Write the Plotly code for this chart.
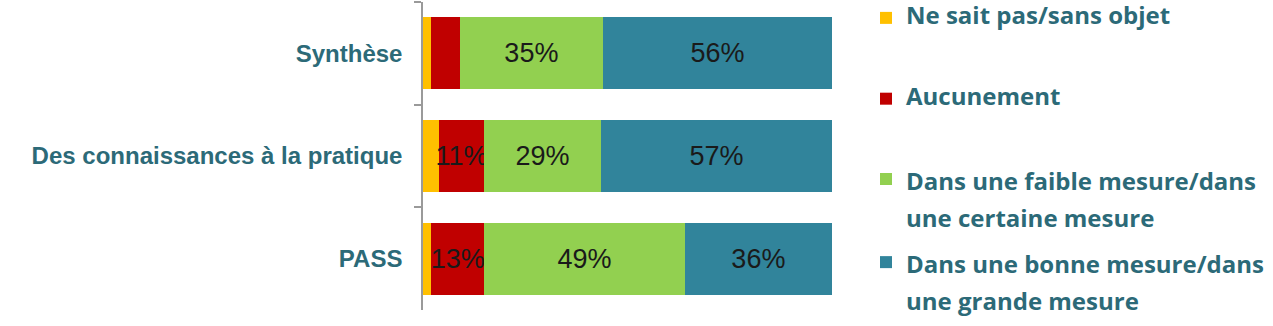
import plotly.graph_objects as go

categories = ["Synthèse", "Des connaissances à la pratique", "PASS"]
series_names = [
    "Ne sait pas/sans objet",
    "Aucunement",
    "Dans une faible mesure/dans<br>une certaine mesure",
    "Dans une bonne mesure/dans<br>une grande mesure",
]
ne_sait_pas = [2, 4, 2]
aucunement = [7, 11, 13]
faible = [35, 29, 49]
bonne = [56, 57, 36]
colors = ["#FFC000", "#C00000", "#92D050", "#31849B"]

series_values = [ne_sait_pas, aucunement, faible, bonne]

TXT = "#2C6A78"
fig = go.Figure()
for i, (name, vals, col) in enumerate(zip(series_names, series_values, colors)):
    fig.add_trace(go.Bar(
        y=categories, x=vals, orientation="h",
        name=f'<span style="font-size:24px">{name}</span>',
        marker=dict(color=col, line=dict(width=0)),
        text=[f"{v}%" if v >= 10 else "" for v in vals],
        textposition="inside", insidetextanchor="middle", textangle=0,
        constraintext="none",
        textfont=dict(family="Liberation Sans, Arial", size=27, color="#1a1a1a"),
        legendgroup=f"g{i}",
        legend="legend" if i < 2 else "legend2",
        hoverinfo="skip",
    ))

legend_common = dict(
    xref="container", x=866/1273, yref="paper",
    xanchor="left", yanchor="top", valign="top",
    traceorder="grouped",
    bgcolor="rgba(0,0,0,0)",
)

fig.update_layout(
    width=1273, height=326,
    barmode="stack", barnorm="percent", bargap=0.3,
    plot_bgcolor="white", paper_bgcolor="white",
    margin=dict(l=423, r=441, t=2, b=16),
    uniformtext=dict(minsize=27, mode="show"),
    showlegend=True,
    legend=dict(**legend_common, y=1.0033, tracegroupgap=57,
                font=dict(family="Open Sans, Noto Sans", size=16, color=TXT, weight="bold")),
    legend2=dict(**legend_common, y=0.5065, tracegroupgap=6,
                 font=dict(family="Open Sans, Noto Sans", size=28.5, color=TXT, weight="bold")),
    xaxis=dict(visible=False, range=[0, 100], fixedrange=True),
    yaxis=dict(
        autorange="reversed", showline=True, linecolor="#9a9a9a", linewidth=1.5,
        ticks="outside", tickson="boundaries", ticklen=7, tickcolor="#9a9a9a", tickwidth=1.5,
        ticklabelstandoff=14,
        tickfont=dict(family="Liberation Sans, Arial", size=24, color=TXT, weight="bold"),
        showgrid=False, zeroline=False,
    ),
)

fig.write_html("out.html")
